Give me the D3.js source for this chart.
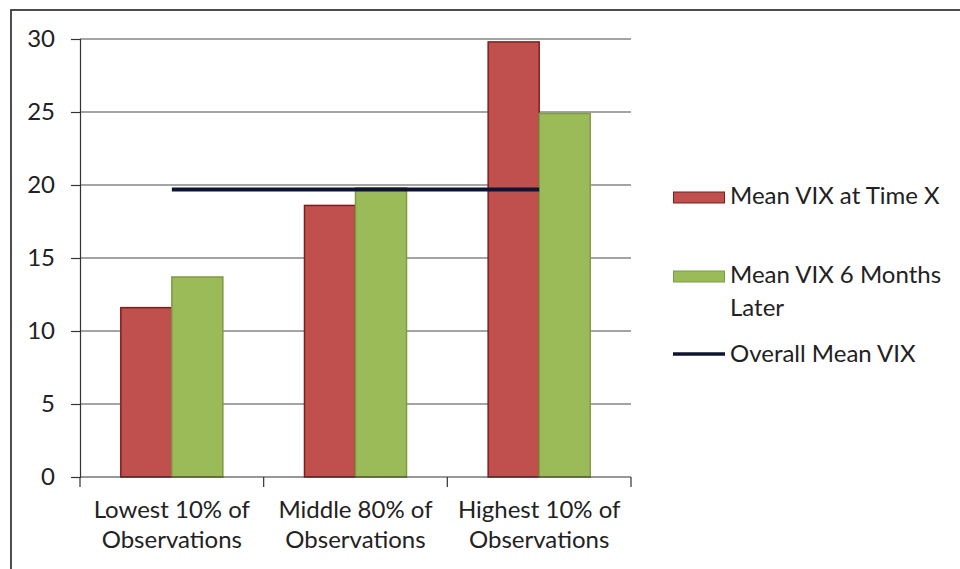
<!DOCTYPE html>
<html>
<head>
<meta charset="utf-8">
<script src="https://cdn.jsdelivr.net/npm/d3@7"></script>
<style>
  body { margin: 0; background: #fff; }
  svg { display: block; }
  text { font-family: Lato, "Open Sans", sans-serif; fill: #222; }
</style>
</head>
<body>
<div id="chart"></div>
<script>
// chart values
const categories = ["Lowest 10% of|Observations", "Middle 80% of|Observations", "Highest 10% of|Observations"];
const seriesNames = ["Mean VIX at Time X", "Mean VIX 6 Months Later"];
const meanAtTimeX = [11.6, 18.6, 29.8];
const meanSixMonthsLater = [13.7, 19.8, 24.9];
const overallMean = 19.7;
const yTicks = [0, 5, 10, 15, 20, 25, 30];

const W = 960, H = 569;
const margin = { top: 39, right: 329, bottom: 92, left: 80 };

const svg = d3.select("#chart").append("svg")
  .attr("width", W)
  .attr("height", H);

// outer frame (clipped on the right / bottom like the original)
svg.append("rect")
  .attr("x", 11).attr("y", 10)
  .attr("width", W + 20).attr("height", H + 20)
  .attr("fill", "none")
  .attr("stroke", "#3a3a3a")
  .attr("stroke-width", 1.8);

const x = d3.scaleBand()
  .domain(categories)
  .range([margin.left, W - margin.right]);

const xInner = d3.scaleBand()
  .domain(seriesNames)
  .range([0, x.bandwidth()])
  .paddingOuter(0.8);

const y = d3.scaleLinear()
  .domain([0, 30])
  .range([H - margin.bottom, margin.top]);

// gridlines
svg.append("g")
  .selectAll("line")
  .data(yTicks.filter(d => d > 0))
  .join("line")
  .attr("x1", margin.left)
  .attr("x2", W - margin.right)
  .attr("y1", d => y(d))
  .attr("y2", d => y(d))
  .attr("stroke", "#4a4a4a")
  .attr("stroke-width", 1.2);

// y axis
const yAxis = svg.append("g")
  .attr("transform", "translate(" + margin.left + ",0)")
  .call(d3.axisLeft(y).tickValues(yTicks).tickSize(9).tickPadding(16));
yAxis.select(".domain").attr("stroke", "#333").attr("stroke-width", 1.2);
yAxis.selectAll(".tick line").attr("stroke", "#333").attr("stroke-width", 1.2);
yAxis.selectAll(".tick text")
  .style("font-family", "Lato, sans-serif")
  .style("font-size", "24px")
  .attr("fill", "#2a2a2a");

// bars
const rows = categories.map((c, i) => ({ cat: c, values: [meanAtTimeX[i], meanSixMonthsLater[i]] }));
const fills = ["#c0504d", "#9bbb59"];
const strokes = ["#7d1e1c", "#7f9a45"];

svg.append("g")
  .selectAll("g")
  .data(rows)
  .join("g")
  .attr("transform", d => "translate(" + x(d.cat) + ",0)")
  .selectAll("rect")
  .data(d => d.values.map((v, j) => ({ key: seriesNames[j], v: v, j: j })))
  .join("rect")
  .attr("x", d => xInner(d.key))
  .attr("width", xInner.bandwidth())
  .attr("y", d => y(d.v))
  .attr("height", d => y(0) - y(d.v))
  .attr("fill", d => fills[d.j])
  .attr("stroke", d => strokes[d.j])
  .attr("stroke-width", 1.5);

// x axis
const xAxis = svg.append("g")
  .attr("transform", "translate(0," + y(0) + ")");
xAxis.append("line")
  .attr("x1", margin.left).attr("x2", W - margin.right)
  .attr("stroke", "#333").attr("stroke-width", 1.2);
const bounds = [x.range()[0]].concat(categories.map(c => x(c) + x.bandwidth()));
xAxis.selectAll(".xt")
  .data(bounds)
  .join("line")
  .attr("class", "xt")
  .attr("x1", d => d).attr("x2", d => d)
  .attr("y1", 0).attr("y2", 10)
  .attr("stroke", "#333").attr("stroke-width", 1.2);
const xl = xAxis.selectAll(".xl")
  .data(categories)
  .join("text")
  .attr("class", "xl")
  .attr("text-anchor", "middle")
  .style("font-size", "24px");
xl.append("tspan")
  .attr("x", d => x(d) + x.bandwidth() / 2)
  .attr("y", 41)
  .text(d => d.split("|")[0]);
xl.append("tspan")
  .attr("x", d => x(d) + x.bandwidth() / 2)
  .attr("y", 71)
  .text(d => d.split("|")[1]);

// overall mean line
const meanLine = d3.line()
  .x(d => x(d) + x.bandwidth() / 2)
  .y(() => y(overallMean));
svg.append("path")
  .datum([categories[0], categories[categories.length - 1]])
  .attr("d", meanLine)
  .attr("fill", "none")
  .attr("stroke", "#0f1433")
  .attr("stroke-width", 4);

// legend
const legend = svg.append("g").attr("transform", "translate(673,0)");
const legendRows = [
  { type: "bar", color: fills[0], stroke: strokes[0], lines: ["Mean VIX at Time X"], y: 204 },
  { type: "bar", color: fills[1], stroke: strokes[1], lines: ["Mean VIX 6 Months", "Later"], y: 283 },
  { type: "line", color: "#0f1433", lines: ["Overall Mean VIX"], y: 362 }
];
legendRows.forEach(r => {
  if (r.type === "bar") {
    legend.append("rect")
      .attr("x", 0.5).attr("y", r.y - 12)
      .attr("width", 51).attr("height", 11)
      .attr("fill", r.color).attr("stroke", r.stroke).attr("stroke-width", 1);
  } else {
    legend.append("line")
      .attr("x1", 0).attr("x2", 52)
      .attr("y1", r.y - 8).attr("y2", r.y - 8)
      .attr("stroke", r.color).attr("stroke-width", 3.5);
  }
  r.lines.forEach((t, k) => {
    legend.append("text")
      .attr("x", 57)
      .attr("y", r.y + k * 33)
      .style("font-size", "24px")
      .text(t);
  });
});
</script>
</body>
</html>
